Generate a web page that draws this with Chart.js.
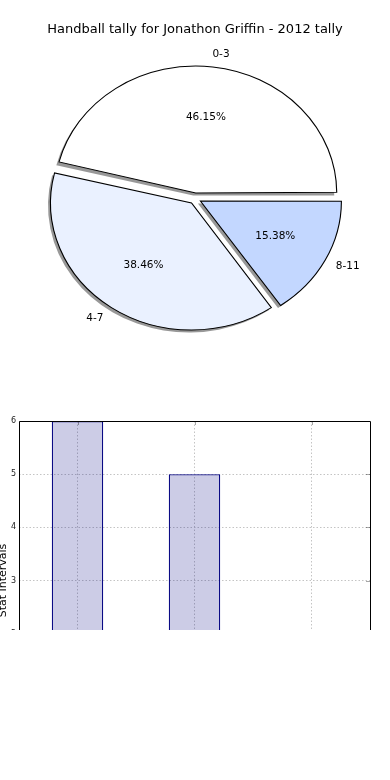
<!DOCTYPE html>
<html><head><meta charset="utf-8">
<script src="https://cdn.jsdelivr.net/npm/chart.js@4.4.0/dist/chart.umd.min.js"></script>
<style>
html,body{margin:0;padding:0;background:#fff;width:390px;height:780px;overflow:hidden;}
#pieBox{position:absolute;left:0;top:0;width:390px;height:400px;}
#barBox{position:absolute;left:0;top:400px;width:390px;height:230px;overflow:hidden;}
#barInner{position:relative;width:390px;height:360px;}
</style></head><body>
<div id="pieBox"><canvas id="pie"></canvas></div>
<div id="barBox"><div id="barInner"><canvas id="bar"></canvas></div></div>
<script>
// ---- data ----
const chartTitle = 'Handball tally for Jonathon Griffin - 2012 tally';
const categories = ['0-3', '4-7', '8-11'];
const tallies = [6, 5, 2];
const sliceColors = ['#ffffff', '#eaf1ff', '#c3d7ff'];
const barValues = [6, 5, 2];
const yTickValues = [0, 1, 2, 3, 4, 5, 6];
const yAxisTitle = 'Stat Intervals';

Chart.defaults.font.family = "'DejaVu Sans', sans-serif";
Chart.defaults.color = '#000';
Chart.defaults.animation = false;

// pie drawn counter-clockwise from east like the original -> reverse order, clockwise from east
const pieLabels = categories.slice().reverse();
const pieValues = tallies.slice().reverse();
const pieColors = sliceColors.slice().reverse();
const total = tallies.reduce((a, b) => a + b, 0);

const SX = 141 / 127;   // horizontal stretch (elliptical pie)
const R = 127;
const OFF = 22;         // chart.js offset (drawn shift = OFF/4)

const pieFx = {
  id: 'pieFx',
  beforeDatasetsDraw(chart) {
    const ctx = chart.ctx, meta = chart.getDatasetMeta(0);
    const cx = (chart.chartArea.left + chart.chartArea.right) / 2;
    meta.data.forEach(a => {
      const c = a.endAngle - a.startAngle;
      const fix = 1 - Math.sin(Math.min(Math.PI, c));
      a.outerRadius = R - (OFF / 4) * fix;
    });
    ctx.save();
    ctx.translate(cx, 0); ctx.scale(SX, 1); ctx.translate(-cx, 0);
    ctx.fillStyle = 'rgba(50,50,50,0.5)';
    meta.data.forEach(a => {
      const h = (a.startAngle + a.endAngle) / 2, d = OFF / 4;
      const x = a.x + Math.cos(h) * d - 2.5 / SX, y = a.y + Math.sin(h) * d + 2.5;
      ctx.beginPath(); ctx.moveTo(x, y); ctx.arc(x, y, R, a.startAngle, a.endAngle); ctx.closePath(); ctx.fill();
    });
  },
  afterDatasetsDraw(chart) {
    const ctx = chart.ctx, meta = chart.getDatasetMeta(0);
    ctx.restore();
    const cx = (chart.chartArea.left + chart.chartArea.right) / 2;
    ctx.save();
    ctx.fillStyle = '#000';
    ctx.font = "10.5px 'DejaVu Sans'";
    ctx.textBaseline = 'middle';
    meta.data.forEach((a, i) => {
      const h = (a.startAngle + a.endAngle) / 2, d = OFF / 4;
      const ax = cx + (a.x + Math.cos(h) * d - cx) * SX;
      const ay = a.y + Math.sin(h) * d;
      const c = Math.cos(h) * SX, s = Math.sin(h);
      ctx.textAlign = Math.cos(h) > 0 ? 'left' : 'right';
      ctx.fillText(chart.data.labels[i], ax + 1.1 * R * c - (Math.cos(h) > 0 ? 2 : 0), ay + 1.1 * R * s);
      ctx.textAlign = 'center';
      const v = chart.data.datasets[0].data[i];
      ctx.fillText((v / total * 100).toFixed(2) + '%', ax + 0.6 * R * c, ay + 0.6 * R * s);
    });
    ctx.restore();
  }
};

new Chart(document.getElementById('pie'), {
  type: 'pie',
  data: { labels: pieLabels, datasets: [{ data: pieValues, backgroundColor: pieColors,
    borderColor: '#000', borderWidth: 1, borderJoinStyle: 'miter', offset: OFF }] },
  options: {
    responsive: true, maintainAspectRatio: false,
    rotation: 90, radius: R,
    layout: { padding: { top: 0, bottom: 40.6, left: 0, right: 0 } },
    plugins: {
      legend: { display: false }, tooltip: { enabled: false },
      title: { display: true, text: chartTitle, font: { size: 13, weight: 'normal' }, color: '#000',
        padding: { top: 22, bottom: 0 } }
    }
  },
  plugins: [pieFx]
});

const frame = {
  id: 'frame',
  afterDatasetsDraw(chart) {
    const { ctx, chartArea: a } = chart;
    const xs = chart.scales.x, ys = chart.scales.y;
    ctx.save();
    ctx.strokeStyle = 'rgba(0,0,0,0.35)'; ctx.lineWidth = 1;
    xs.ticks.forEach((t, i) => {
      const x = Math.round(xs.getPixelForTick(i)) + 0.5;
      ctx.beginPath(); ctx.moveTo(x, a.top); ctx.lineTo(x, a.top + 4); ctx.stroke();
    });
    ys.ticks.forEach(t => {
      const y = Math.round(ys.getPixelForValue(t.value)) + 0.5;
      ctx.beginPath(); ctx.moveTo(a.right, y); ctx.lineTo(a.right - 4, y); ctx.stroke();
    });
    ctx.strokeStyle = '#000';
    const L = Math.round(a.left) + 0.5, Rr = Math.round(a.right) + 0.5, T = Math.round(a.top) + 0.5, B = Math.round(a.bottom) + 0.5;
    ctx.beginPath(); ctx.moveTo(L, B); ctx.lineTo(L, T); ctx.lineTo(Rr, T); ctx.lineTo(Rr, B); ctx.lineTo(L, B); ctx.stroke();
    ctx.restore();
  }
};

new Chart(document.getElementById('bar'), {
  type: 'bar',
  data: { labels: categories, datasets: [{ data: barValues, backgroundColor: 'rgba(0,0,128,0.2)',
    borderColor: '#000080', borderWidth: 1.2, borderSkipped: false, barPercentage: 0.44, categoryPercentage: 1 }] },
  options: {
    responsive: true, maintainAspectRatio: false,
    layout: { padding: { top: 21, right: 20, left: 0, bottom: 0 } },
    plugins: { legend: { display: false }, tooltip: { enabled: false } },
    scales: {
      x: {
        offset: true,
        grid: { offset: false, color: '#c4c4c4', lineWidth: 1, drawTicks: false },
        border: { display: false, dash: [1.5, 2] },
        ticks: { font: { size: 8 }, padding: 3 },
        afterFit(s) { s.height = 20; }
      },
      y: {
        min: 0, max: 6,
        afterBuildTicks(s) { s.ticks = yTickValues.map(v => ({ value: v })); },
        grid: { color: '#c4c4c4', lineWidth: 1, drawTicks: false },
        border: { display: false, dash: [1.5, 2] },
        ticks: { font: { size: 8 }, padding: 3, color: '#222' },
        title: { display: true, text: yAxisTitle, font: { size: 11, lineHeight: 0.55 }, padding: 0, color: '#000' },
        afterFit(s) { s.width = 19; }
      }
    }
  },
  plugins: [frame]
});
</script>
</body></html>
